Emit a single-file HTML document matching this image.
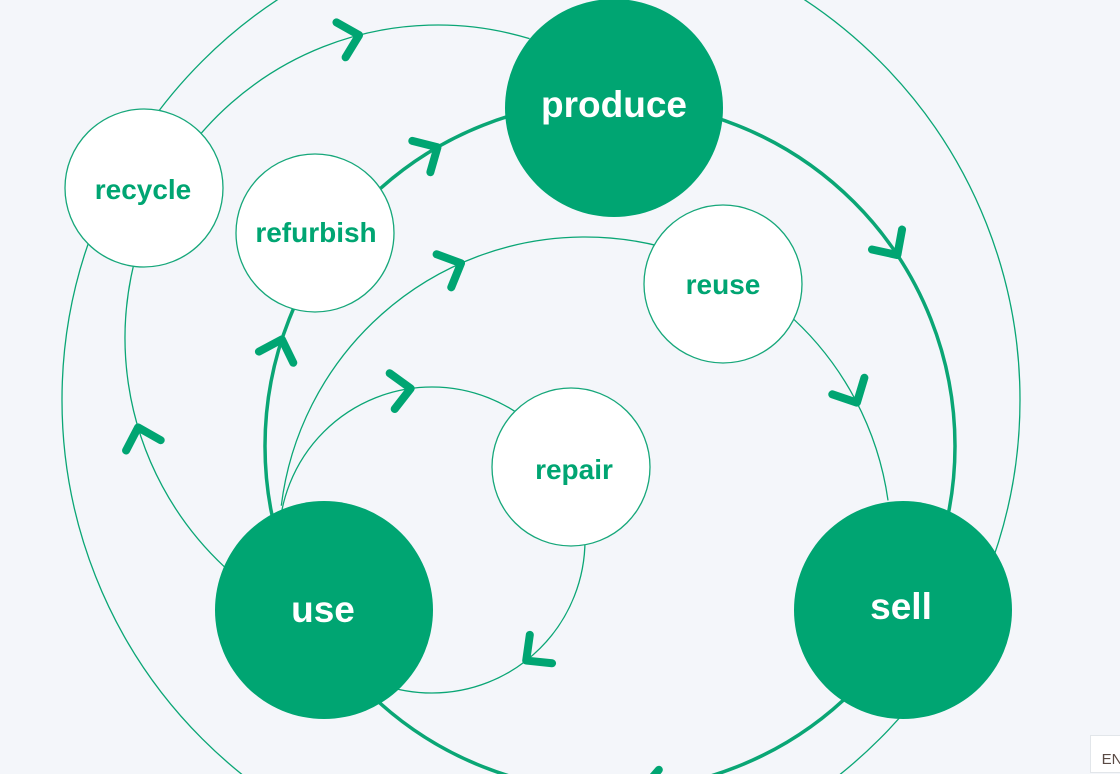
<!DOCTYPE html>
<html><head><meta charset="utf-8"><style>
html,body{margin:0;padding:0;background:#f4f6fa;width:1120px;height:774px;overflow:hidden}
svg{display:block}
text{font-family:"Liberation Sans",sans-serif;font-weight:bold;text-anchor:middle}
</style></head><body>
<svg id="s" width="1120" height="774" viewBox="0 0 1120 774">
<g id="lines" fill="none" stroke="#0aa675"></g>
<g id="arrows" fill="none" stroke="#00a572" stroke-width="8" stroke-linecap="round" stroke-linejoin="round"></g>
<g id="nodes">
<circle cx="614" cy="108" r="109" fill="#00a572"/>
<circle cx="324" cy="610" r="109" fill="#00a572"/>
<circle cx="903" cy="610" r="109" fill="#00a572"/>
<circle cx="144" cy="188" r="79" fill="#fff" stroke="#16a77a" stroke-width="1.3"/>
<circle cx="315" cy="233" r="79" fill="#fff" stroke="#16a77a" stroke-width="1.3"/>
<circle cx="723" cy="284" r="79" fill="#fff" stroke="#16a77a" stroke-width="1.3"/>
<circle cx="571" cy="467" r="79" fill="#fff" stroke="#16a77a" stroke-width="1.3"/>
<text x="614" y="117" font-size="37" fill="#fff">produce</text>
<text x="323" y="622" font-size="37" fill="#fff">use</text>
<text x="901" y="619" font-size="37" fill="#fff">sell</text>
<text x="143" y="199" font-size="28" fill="#00a572">recycle</text>
<text x="316" y="242" font-size="28" fill="#00a572">refurbish</text>
<text x="723" y="294" font-size="28" fill="#00a572">reuse</text>
<text x="574" y="479" font-size="28" fill="#00a572">repair</text>
</g>
<rect x="1090.5" y="735.5" width="40" height="37" fill="#fff" stroke="#e2e6ea"/>
<text x="1112" y="764" font-size="15" fill="#5a4a44" style="font-weight:normal">EN</text>
</svg>
<script>
var NS="http://www.w3.org/2000/svg";
var L=document.getElementById('lines'),A=document.getElementById('arrows');
function rad(d){return d*Math.PI/180}
function pt(c,r,d){return [c[0]+r*Math.cos(rad(d)),c[1]+r*Math.sin(rad(d))]}
function arc(c,r,a0,a1,w){
  var p=document.createElementNS(NS,'path');var d;
  if(a1-a0>=359.9){d='M'+(c[0]-r)+' '+c[1]+' a'+r+' '+r+' 0 1 1 '+(2*r)+' 0 a'+r+' '+r+' 0 1 1 '+(-2*r)+' 0';}
  else{var s=pt(c,r,a0),e=pt(c,r,a1);d='M'+s[0]+' '+s[1]+' A'+r+' '+r+' 0 '+((a1-a0)>180?1:0)+' 1 '+e[0]+' '+e[1];}
  p.setAttribute('d',d);p.setAttribute('stroke-width',w);L.appendChild(p);
}
function chev(c,r,d){
  var P=pt(c,r,d),t=[-Math.sin(rad(d)),Math.cos(rad(d))],len=26,h=rad(44);
  function rot(v,a){return [v[0]*Math.cos(a)-v[1]*Math.sin(a),v[0]*Math.sin(a)+v[1]*Math.cos(a)]}
  var u=rot(t,h),v=rot(t,-h);
  var p=document.createElementNS(NS,'path');
  p.setAttribute('d','M'+(P[0]-len*u[0])+' '+(P[1]-len*u[1])+' L'+P[0]+' '+P[1]+' L'+(P[0]-len*v[0])+' '+(P[1]-len*v[1]));
  A.appendChild(p);
}
var outer=[541,400],ring2=[438,338],main=[610,446],reu=[585,543],rep=[432,540];
arc(outer,479,0,360,1.3);
arc(ring2,313,133,287,1.3);
arc(main,345,0,360,3.5);
arc(reu,306,187,352,1.3);
arc(rep,153,0,360,1.3);
chev(ring2,313,-104.6+360);chev(ring2,313,163.4);
chev(main,345,-120);chev(main,345,-162);chev(main,345,-33.6);chev(main,345,84.7);
chev(reu,306,-113.9);chev(reu,306,-27.3);
chev(rep,153,-98);chev(rep,153,52);
</script>
</body></html>
